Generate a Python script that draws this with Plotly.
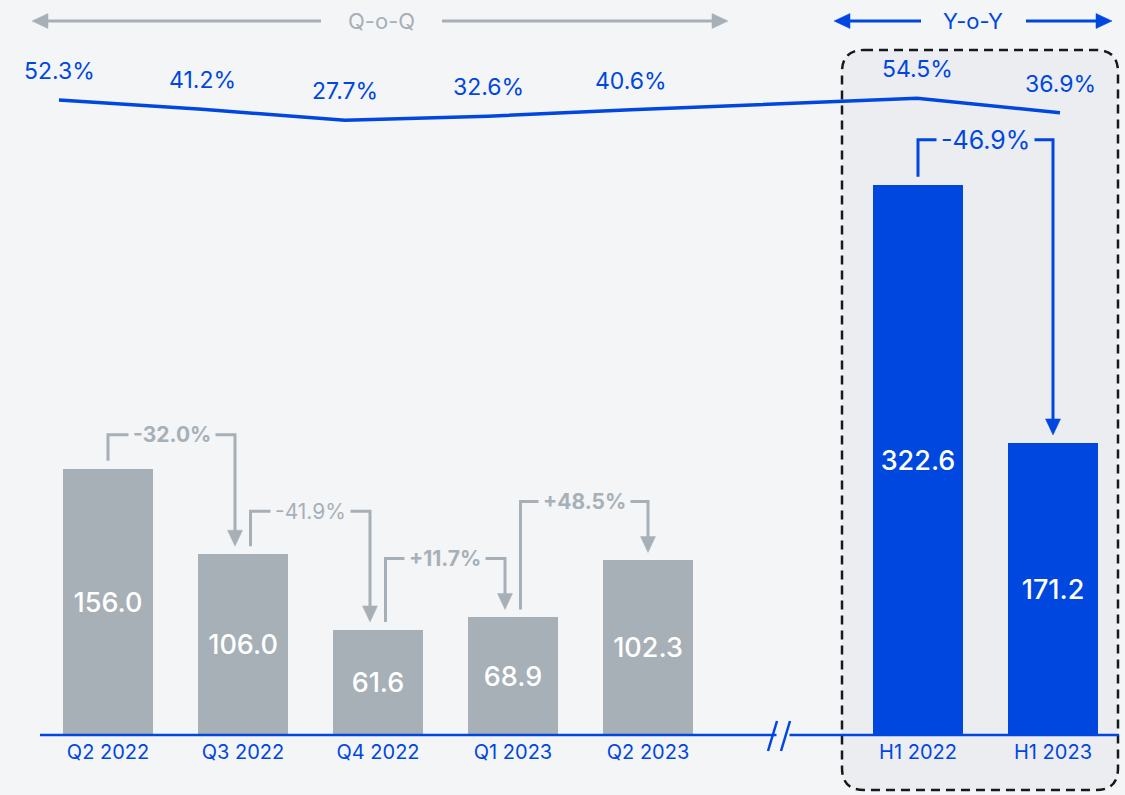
import plotly.graph_objects as go

# ---------------- data ----------------
categories = ["Q2 2022", "Q3 2022", "Q4 2022", "Q1 2023", "Q2 2023", "H1 2022", "H1 2023"]
slots = [0, 1, 2, 3, 4, 6, 7]          # category slots on the x axis (slot 5 = axis break)
values = [156.0, 106.0, 61.6, 68.9, 102.3, 322.6, 171.2]
margin_pct = [52.3, 41.2, 27.7, 32.6, 40.6, 54.5, 36.9]
change_from = [0, 1, 2, 3, 5]
change_to = [1, 2, 3, 4, 6]
change_labels = ["-32.0%", "-41.9%", "+11.7%", "+48.5%", "-46.9%"]

# ---------------- style / layout constants ----------------
W, H = 1125, 795
BG = "#f4f5f7"
BOX = "#ecedf0"
BLUE = "#0047e0"
GRAY = "#a7b0b7"
FONT = "Inter"

X0_PX, X_STEP = 108, 135          # pixel of slot 0, pixels per slot
BASE_PX, Y_SCALE = 735, 1.706     # pixel of baseline, pixels per unit
L0_PX, L_STEP = 59, 143           # line x mapping
L_ANCHOR_V, L_ANCHOR_PX, L_SCALE = 50.0, 102.0, 0.82

xr = [-X0_PX / X_STEP, (W - X0_PX) / X_STEP]
yr = [-(H - BASE_PX) / Y_SCALE, BASE_PX / Y_SCALE]
x2r = [-L0_PX / L_STEP, (W - L0_PX) / L_STEP]
y2r = [L_ANCHOR_V - (H - L_ANCHOR_PX) / L_SCALE, L_ANCHOR_V + L_ANCHOR_PX / L_SCALE]


def dx(px):
    return px / X_STEP


def dy(px):
    return px / Y_SCALE


def PX(p):
    return p / W


def PY(p):
    return 1 - p / H


is_half = [c.startswith("H") for c in categories]
bar_colors = [BLUE if h else GRAY for h in is_half]

fig = go.Figure()
fig.add_trace(go.Bar(
    x=slots, y=values, width=dx(90),
    marker=dict(color=bar_colors, line=dict(width=0)),
    text=[f"{v:.1f}" for v in values],
    textposition="inside", insidetextanchor="middle",
    textfont=dict(family=FONT, size=27, color="white", weight=500),
    hoverinfo="skip", showlegend=False,
))
fig.add_trace(go.Scatter(
    x=slots, y=margin_pct, xaxis="x2", yaxis="y2", mode="lines",
    line=dict(color=BLUE, width=3.5), hoverinfo="skip", showlegend=False,
))

shapes = []
annotations = []

# dashed rounded box around half-year section
bx1, bx2, by1, by2, r = 842, 1118, 50, 790, 22
box_path = (
    f"M {PX(bx1 + r)},{PY(by1)} L {PX(bx2 - r)},{PY(by1)} Q {PX(bx2)},{PY(by1)} {PX(bx2)},{PY(by1 + r)} "
    f"L {PX(bx2)},{PY(by2 - r)} Q {PX(bx2)},{PY(by2)} {PX(bx2 - r)},{PY(by2)} "
    f"L {PX(bx1 + r)},{PY(by2)} Q {PX(bx1)},{PY(by2)} {PX(bx1)},{PY(by2 - r)} "
    f"L {PX(bx1)},{PY(by1 + r)} Q {PX(bx1)},{PY(by1)} {PX(bx1 + r)},{PY(by1)} Z"
)
shapes.append(dict(type="path", xref="paper", yref="paper", path=box_path,
                   fillcolor=BOX, line=dict(color="#15181c", width=2.5, dash="9px,6px"),
                   layer="below"))

# axis baseline with break
x_left = slots[0] + dx(-68)
x_right = slots[-1] + dx(66)
brk = 5
shapes.append(dict(type="line", xref="x", yref="y", x0=x_left, x1=brk - dx(6.5), y0=0, y1=0,
                   line=dict(color=BLUE, width=2.5)))
shapes.append(dict(type="line", xref="x", yref="y", x0=brk + dx(6.5), x1=x_right, y0=0, y1=0,
                   line=dict(color=BLUE, width=2.5)))
for off in (-12, 1):
    shapes.append(dict(type="line", xref="x", yref="y",
                       x0=brk + dx(off - 3), y0=dy(-16),
                       x1=brk + dx(off + 6), y1=dy(14),
                       line=dict(color=BLUE, width=2.5)))

# change brackets
lifts = [34, 43, 59, 59, 45]
bold = [True, False, True, True, False]
for k, (i, j) in enumerate(zip(change_from, change_to)):
    has_in = i in change_to
    has_out = j in change_from
    xl = slots[i] + dx(7.5 if has_in else 0)
    xrr = slots[j] - dx(8 if has_out else 0)
    y_start = values[i] + dy(8)
    y_tip = values[j] + dy(8)
    y_h = max(values[i], values[j]) + dy(lifts[k])
    col = BLUE if is_half[i] else GRAY
    shapes.append(dict(type="path", xref="x", yref="y",
                       path=f"M {xl},{y_start} L {xl},{y_h} L {xrr},{y_h} L {xrr},{y_tip + dy(12)}",
                       line=dict(color=col, width=3)))
    shapes.append(dict(type="path", xref="x", yref="y",
                       path=(f"M {xrr - dx(7.5)},{y_tip + dy(16)} L {xrr + dx(7.5)},{y_tip + dy(16)} "
                             f"L {xrr},{y_tip} Z"),
                       fillcolor=col, line=dict(color=col, width=0.5)))
    annotations.append(dict(
        x=(xl + xrr) / 2, y=y_h, xref="x", yref="y", text=change_labels[k], showarrow=False,
        xanchor="center", yanchor="middle",
        font=dict(family=FONT, size=25 if is_half[i] else 21, color=col,
                  weight="bold" if bold[k] else "normal"),
        bgcolor=BOX if is_half[i] else BG, borderpad=4,
    ))

# margin line labels
for s, v in zip(slots, margin_pct):
    annotations.append(dict(x=s, y=v, xref="x2", yref="y2", text=f"{v:.1f}%", showarrow=False,
                            xanchor="center", yanchor="middle", yshift=29,
                            font=dict(family=FONT, size=23, color=BLUE)))


# top range arrows
def range_arrow(tip_l, end_l, start_r, tip_r, y, col, label, cx):
    shapes.append(dict(type="line", xref="paper", yref="paper", x0=PX(tip_l + 12), x1=PX(end_l),
                       y0=PY(y), y1=PY(y), line=dict(color=col, width=3)))
    shapes.append(dict(type="line", xref="paper", yref="paper", x0=PX(start_r), x1=PX(tip_r - 12),
                       y0=PY(y), y1=PY(y), line=dict(color=col, width=3)))
    shapes.append(dict(type="path", xref="paper", yref="paper",
                       path=f"M {PX(tip_l)},{PY(y)} L {PX(tip_l + 16)},{PY(y - 7.5)} L {PX(tip_l + 16)},{PY(y + 7.5)} Z",
                       fillcolor=col, line=dict(color=col, width=0.5)))
    shapes.append(dict(type="path", xref="paper", yref="paper",
                       path=f"M {PX(tip_r)},{PY(y)} L {PX(tip_r - 16)},{PY(y - 7.5)} L {PX(tip_r - 16)},{PY(y + 7.5)} Z",
                       fillcolor=col, line=dict(color=col, width=0.5)))
    annotations.append(dict(x=PX(cx), y=PY(y), xref="paper", yref="paper", text=label,
                            showarrow=False, xanchor="center", yanchor="middle",
                            font=dict(family=FONT, size=22, color=col)))


range_arrow(32, 321, 442, 728, 21, GRAY, "Q-o-Q", 381.5)
range_arrow(834, 921, 1026, 1112, 21, BLUE, "Y-o-Y", 973)

fig.update_layout(
    width=W, height=H,
    margin=dict(l=0, r=0, t=0, b=0, pad=0),
    paper_bgcolor=BG, plot_bgcolor="rgba(0,0,0,0)",
    font=dict(family=FONT),
    xaxis=dict(range=xr, domain=[0, 1], tickvals=slots, ticktext=categories,
               showgrid=False, zeroline=False, showline=False, ticks="",
               tickfont=dict(family=FONT, size=20, color=BLUE), ticklabelstandoff=3,
               anchor="free", position=(H - BASE_PX) / H, fixedrange=True),
    yaxis=dict(range=yr, domain=[0, 1], visible=False, fixedrange=True),
    xaxis2=dict(range=x2r, overlaying="x", anchor="y2", visible=False, fixedrange=True),
    yaxis2=dict(range=y2r, overlaying="y", anchor="x2", visible=False, fixedrange=True),
    shapes=shapes, annotations=annotations,
    showlegend=False, bargap=0,
)

fig.write_html("out.html")
